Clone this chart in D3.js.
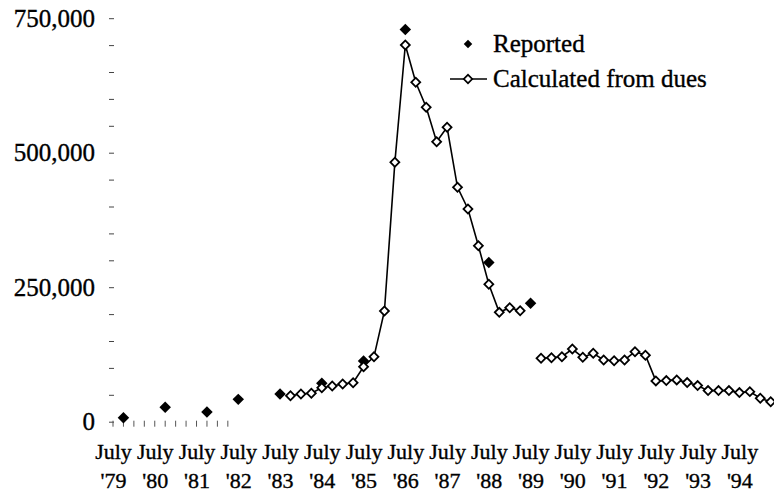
<!DOCTYPE html>
<html>
<head>
<meta charset="utf-8">
<script src="https://cdn.jsdelivr.net/npm/d3@7"></script>
<style>
  html, body { margin: 0; padding: 0; background: #fff; }
  svg { display: block; }
  svg text { font-family: "Liberation Serif", Tinos, "Times New Roman", "Nimbus Roman", "DejaVu Serif", serif; fill: #000; stroke: #000; stroke-width: 0.35px; }
</style>
</head>
<body>
<svg id="chart" width="774" height="493"></svg>
<script>
// ---- Data (period = quarters since July 1979) ----
const yearLabels = ["'79","'80","'81","'82","'83","'84","'85","'86","'87","'88","'89","'90","'91","'92","'93","'94"];
const yTickValues = [0,50000,100000,150000,200000,250000,300000,350000,400000,450000,500000,550000,600000,650000,700000,750000];
const yLabelValues = [0, 250000, 500000, 750000];

const reportedPeriods = [1, 5, 9, 12, 16, 20, 24, 28, 36, 40];
const reportedValues  = [7500, 27000, 18000, 41500, 51500, 71500, 113000, 729000, 296000, 220000];

const calcPeriods = [17,18,19,20,21,22,23,24,25,26,27,28,29,30,31,32,33,34,35,36,37,38,39,40,
                     41,42,43,44,45,46,47,48,49,50,51,52,53,54,55,56,57,58,59,60,61,62,63];
const calcValues = [48300,51500,52800,63200,66400,70100,72500,102200,120800,205800,482200,700200,
                    630900,584400,520400,547200,435700,395400,327100,255400,203300,211900,206300,null,
                    117800,119000,120800,135100,119700,127100,114700,113400,114700,130100,123600,
                    75800,76400,77700,72700,67100,57800,57800,57800,54100,55900,43500,37200];

const minorXTicks = [0,1,2,3,4,5,6,7,8,9,10,11];

const FONT = '"Liberation Serif", Tinos, "Times New Roman", "Nimbus Roman", "DejaVu Serif", serif';

// ---- Setup ----
const svg = d3.select("#chart");
const x = d3.scaleLinear().domain([0, 63]).range([113, 770.7]);
const y = d3.scaleLinear().domain([0, 750000]).range([421.7, 18.2]);

// Y axis (ticks only, no line)
const yAxis = d3.axisLeft(y)
  .tickValues(yTickValues)
  .tickSize(5)
  .tickPadding(14)
  .tickFormat(v => yLabelValues.includes(v) ? d3.format(",")(v) : "");
const gy = svg.append("g").attr("transform", "translate(114,0)").call(yAxis)
  .attr("font-family", null);
gy.select(".domain").remove();
gy.selectAll(".tick line").attr("stroke", "#444").attr("stroke-width", 1);
gy.selectAll(".tick text").attr("font-size", 25).style("font-family", FONT).attr("fill", "#000");

// X axis labels (two lines)
const labelPeriods = yearLabels.map((_, i) => i * 4);
const xAxis = d3.axisBottom(x).tickValues(labelPeriods).tickSize(0).tickFormat("");
const gx = svg.append("g").attr("transform", `translate(0,${y(0)})`).call(xAxis)
  .attr("font-family", null);
gx.select(".domain").remove();
gx.selectAll(".tick").each(function(d, i) {
  const t = d3.select(this).append("text")
    .attr("text-anchor", "middle")
    .attr("font-size", 22)
    .style("font-family", FONT)
    .attr("fill", "#000");
  t.append("tspan").attr("x", 0).attr("y", 37).text("July");
  t.append("tspan").attr("x", 0).attr("y", 66).text(yearLabels[i]);
});

// Minor x ticks visible near the origin
svg.append("g").selectAll("line").data(minorXTicks).join("line")
  .attr("x1", d => x(d)).attr("x2", d => x(d))
  .attr("y1", y(0) - 1).attr("y2", y(0) + 5)
  .attr("stroke", "#555").attr("stroke-width", 1);

// Calculated line
const calcData = calcPeriods.map((p, i) => ({p, v: calcValues[i]}));
const line = d3.line().defined(d => d.v !== null).x(d => x(d.p)).y(d => y(d.v));
svg.append("path").datum(calcData)
  .attr("d", line).attr("fill", "none").attr("stroke", "#000").attr("stroke-width", 1.6);

const diamond = (size) => d3.symbol(d3.symbolSquare, size)();

// Reported (filled)
const repData = reportedPeriods.map((p, i) => ({p, v: reportedValues[i]}));
svg.append("g").selectAll("path").data(repData).join("path")
  .attr("d", diamond(66))
  .attr("transform", d => `translate(${x(d.p)},${y(d.v)}) rotate(45)`)
  .attr("fill", "#000");

// Calculated (open)
svg.append("g").selectAll("path").data(calcData.filter(d => d.v !== null)).join("path")
  .attr("d", diamond(40))
  .attr("transform", d => `translate(${x(d.p)},${y(d.v)}) rotate(45)`)
  .attr("fill", "#fff").attr("stroke", "#000").attr("stroke-width", 1.8);

// Legend
const lg = svg.append("g");
lg.append("path").attr("d", diamond(36)).attr("transform", "translate(468,44) rotate(45)").attr("fill", "#000");
lg.append("text").attr("x", 493).attr("y", 52).attr("font-size", 25).style("font-family", FONT).text("Reported");
lg.append("line").attr("x1", 450).attr("x2", 487).attr("y1", 79).attr("y2", 79).attr("stroke", "#000").attr("stroke-width", 1.5);
lg.append("path").attr("d", diamond(36)).attr("transform", "translate(468,79) rotate(45)")
  .attr("fill", "#fff").attr("stroke", "#000").attr("stroke-width", 1.7);
lg.append("text").attr("x", 493).attr("y", 87).attr("font-size", 25).style("font-family", FONT).text("Calculated from dues");
</script>
</body>
</html>
